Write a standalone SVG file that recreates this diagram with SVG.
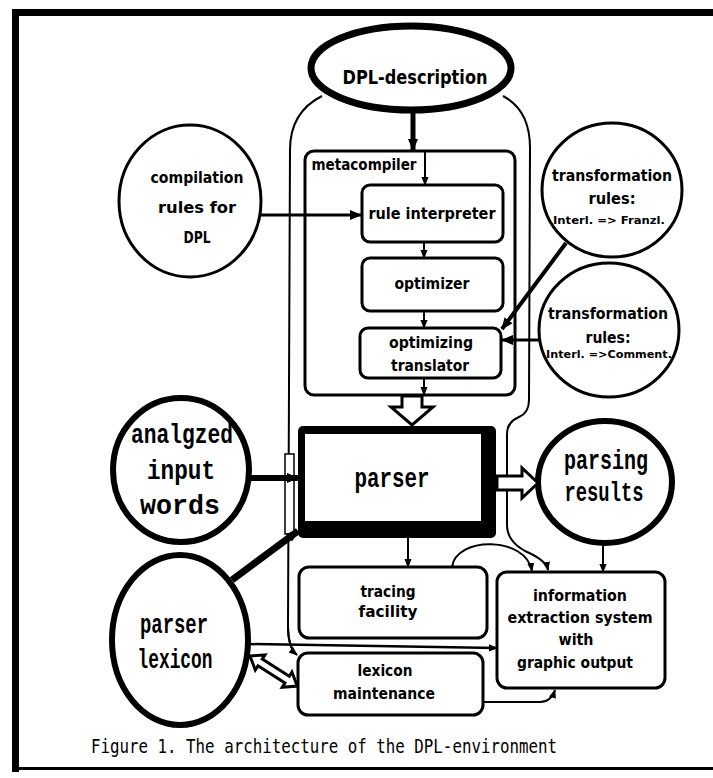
<svg xmlns="http://www.w3.org/2000/svg" width="713" height="778" viewBox="0 0 713 778">
<style>
.bg{fill:#fff}
.frame{fill:#000}
.box{fill:#fff;stroke:#000;stroke-width:3}
.circ{fill:#fff;stroke:#000;stroke-width:3}
.bold{fill:#fff;stroke:#000;stroke-width:6}
.line{fill:none;stroke:#000;stroke-width:2}
.hollow{fill:#fff;stroke:#000;stroke-width:3;stroke-linejoin:miter}
.lbl{font-family:"DejaVu Sans Condensed","DejaVu Sans",sans-serif;font-weight:bold;fill:#000;text-anchor:middle}
.big{font-family:"Liberation Mono","DejaVu Sans Mono",monospace;font-weight:bold;fill:#000;text-anchor:middle}
</style>
<defs>
<marker id="ah" markerUnits="userSpaceOnUse" markerWidth="12" markerHeight="12" viewBox="0 0 12 12" refX="11" refY="6" orient="auto">
<path d="M0,1 L12,6 L0,11 Z" fill="#000"/>
</marker>
<marker id="ahs" markerUnits="userSpaceOnUse" markerWidth="9" markerHeight="9" viewBox="0 0 10 10" refX="9" refY="5" orient="auto">
<path d="M0,1 L10,5 L0,9 Z" fill="#000"/>
</marker>
</defs>
<rect class="bg" x="0" y="0" width="713" height="778"/>
<g id="frame">
<rect class="frame" x="12" y="9" width="701" height="7"/>
<rect class="frame" x="12" y="9" width="7" height="763"/>
<rect class="frame" x="12" y="767" width="701" height="3"/>
</g>
<g id="container">
<path class="line" d="M322,96 C302,106 290,122 290,150 L288,625 C288,642 291,650 296,654"/>
<path class="line" d="M503,96 C522,106 530,124 530,148 L529,400 Q529,413 519,417 Q507,422 507,434 L507,525 Q507,541 525,551 Q546,560 548,570" marker-end="url(#ahs)"/>
<rect x="285" y="454" width="9" height="80" fill="#fff" stroke="#000" stroke-width="1.5"/>
<path class="line" d="M288,625 C288,642 291,650 297,655" marker-end="url(#ahs)"/>
</g>
<g id="metacompiler">
<rect class="box" x="305" y="151" width="210" height="244" rx="9"/>
<text class="lbl" x="364" y="170" font-size="15" textLength="105" lengthAdjust="spacingAndGlyphs">metacompiler</text>
</g>
<g id="dpl-description">
<ellipse cx="411" cy="68" rx="100" ry="42" fill="#fff" stroke="#000" stroke-width="7"/>
<text class="lbl" x="415" y="84" font-size="20" textLength="145" lengthAdjust="spacingAndGlyphs">DPL-description</text>
</g>
<g id="rule-interpreter">
<rect class="box" x="362" y="185" width="141" height="57" rx="8"/>
<text class="lbl" x="432" y="219" font-size="16" textLength="127" lengthAdjust="spacingAndGlyphs">rule interpreter</text>
</g>
<g id="optimizer">
<rect class="box" x="362" y="258" width="141" height="53" rx="8"/>
<text class="lbl" x="432" y="289" font-size="16" textLength="75" lengthAdjust="spacingAndGlyphs">optimizer</text>
</g>
<g id="optimizing-translator">
<rect class="box" x="360" y="328" width="141" height="50" rx="8"/>
<text class="lbl" x="431" y="348" font-size="16" textLength="84" lengthAdjust="spacingAndGlyphs">optimizing</text>
<text class="lbl" x="430" y="371" font-size="16" textLength="78" lengthAdjust="spacingAndGlyphs">translator</text>
</g>
<g id="compilation-rules">
<ellipse class="circ" cx="190" cy="201" rx="71" ry="76"/>
<text class="lbl" x="197" y="183" font-size="16" textLength="93" lengthAdjust="spacingAndGlyphs">compilation</text>
<text class="lbl" x="197" y="213" font-size="16" textLength="78" lengthAdjust="spacingAndGlyphs">rules for</text>
<text class="lbl" x="197" y="243" font-size="16" textLength="27" lengthAdjust="spacingAndGlyphs">DPL</text>
</g>
<g id="transformation-rules-1">
<ellipse class="circ" cx="612" cy="190" rx="70" ry="67"/>
<text class="lbl" x="612" y="181" font-size="16" textLength="120" lengthAdjust="spacingAndGlyphs">transformation</text>
<text class="lbl" x="612" y="204" font-size="16" textLength="47" lengthAdjust="spacingAndGlyphs">rules:</text>
<text class="lbl" x="609" y="224" font-size="10" textLength="112" lengthAdjust="spacingAndGlyphs">Interl. =&gt; Franzl.</text>
</g>
<g id="transformation-rules-2">
<ellipse class="circ" cx="609" cy="330" rx="70" ry="67"/>
<text class="lbl" x="608" y="319" font-size="16" textLength="120" lengthAdjust="spacingAndGlyphs">transformation</text>
<text class="lbl" x="608" y="343" font-size="16" textLength="45" lengthAdjust="spacingAndGlyphs">rules:</text>
<text class="lbl" x="609" y="358" font-size="10" textLength="126" lengthAdjust="spacingAndGlyphs">Interl. =&gt;Comment.</text>
</g>
<g id="parser">
<rect x="298" y="426" width="198" height="112" rx="5" fill="#000"/>
<rect x="305" y="434" width="176" height="87" fill="#fff"/>
<text class="big" x="392" y="487" font-size="28" textLength="75" lengthAdjust="spacingAndGlyphs">parser</text>
</g>
<g id="analyzed-input-words">
<ellipse class="bold" cx="181" cy="470" rx="68" ry="72"/>
<text class="big" x="182" y="443" font-size="28" textLength="102" lengthAdjust="spacingAndGlyphs">analgzed</text>
<text class="big" x="181" y="479" font-size="28" textLength="68" lengthAdjust="spacingAndGlyphs">input</text>
<text class="big" x="180" y="514" font-size="28" textLength="80" lengthAdjust="spacingAndGlyphs">words</text>
</g>
<g id="parsing-results">
<ellipse class="bold" cx="605" cy="482" rx="67" ry="61"/>
<text class="big" x="606" y="469" font-size="28" textLength="84" lengthAdjust="spacingAndGlyphs">parsing</text>
<text class="big" x="604" y="501" font-size="28" textLength="79" lengthAdjust="spacingAndGlyphs">results</text>
</g>
<g id="parser-lexicon">
<ellipse class="bold" cx="180" cy="640" rx="68" ry="85"/>
<text class="big" x="174" y="633" font-size="28" textLength="68" lengthAdjust="spacingAndGlyphs">parser</text>
<text class="big" x="175" y="668" font-size="28" textLength="75" lengthAdjust="spacingAndGlyphs">lexicon</text>
</g>
<g id="tracing-facility">
<rect class="box" x="299" y="567" width="188" height="71" rx="10"/>
<text class="lbl" x="388" y="597" font-size="16" textLength="55" lengthAdjust="spacingAndGlyphs">tracing</text>
<text class="lbl" x="388" y="617" font-size="16" textLength="59" lengthAdjust="spacingAndGlyphs">facility</text>
</g>
<g id="lexicon-maintenance">
<rect class="box" x="298" y="653" width="185" height="62" rx="10"/>
<text class="lbl" x="385" y="676" font-size="16" textLength="55" lengthAdjust="spacingAndGlyphs">lexicon</text>
<text class="lbl" x="384" y="699" font-size="16" textLength="102" lengthAdjust="spacingAndGlyphs">maintenance</text>
</g>
<g id="information-extraction">
<rect class="box" x="497" y="572" width="168" height="116" rx="10"/>
<text class="lbl" x="580" y="601" font-size="16" textLength="94" lengthAdjust="spacingAndGlyphs">information</text>
<text class="lbl" x="580" y="623" font-size="16" textLength="145" lengthAdjust="spacingAndGlyphs">extraction system</text>
<text class="lbl" x="576" y="645" font-size="16" textLength="35" lengthAdjust="spacingAndGlyphs">with</text>
<text class="lbl" x="575" y="668" font-size="16" textLength="116" lengthAdjust="spacingAndGlyphs">graphic output</text>
</g>
<g id="connectors">
<line x1="413" y1="113" x2="413" y2="150" stroke="#000" stroke-width="5" marker-end="url(#ah)"/>
<line class="line" x1="425" y1="151" x2="425" y2="185" marker-end="url(#ahs)"/>
<line class="line" x1="424" y1="242" x2="424" y2="258" marker-end="url(#ahs)"/>
<line class="line" x1="424" y1="311" x2="424" y2="328" marker-end="url(#ahs)"/>
<line class="line" x1="424" y1="378" x2="424" y2="395" marker-end="url(#ahs)"/>
<polygon class="hollow" points="402,396 422,396 422,407 433,407 412,425 391,407 402,407"/>
<line x1="261" y1="215" x2="361" y2="215" stroke="#000" stroke-width="3" marker-end="url(#ah)"/>
<line x1="566" y1="243" x2="502" y2="329" stroke="#000" stroke-width="4" marker-end="url(#ah)"/>
<line x1="539" y1="340" x2="502" y2="340" stroke="#000" stroke-width="3" marker-end="url(#ah)"/>
<line x1="249" y1="478" x2="298" y2="478" stroke="#000" stroke-width="6" marker-end="url(#ah)"/>
<polygon class="hollow" points="497,476 522,476 522,468 538,483 522,498 522,490 497,490"/>
<line x1="232" y1="580" x2="298" y2="531" stroke="#000" stroke-width="7" marker-end="url(#ah)"/>
<line class="line" x1="408" y1="538" x2="408" y2="567" marker-end="url(#ahs)"/>
<path class="line" d="M452,567 C456,536 526,536 532,571" marker-end="url(#ahs)"/>
<line class="line" x1="603" y1="543" x2="603" y2="572" marker-end="url(#ahs)"/>
<line x1="248" y1="644" x2="497" y2="648" stroke="#000" stroke-width="2.5" marker-end="url(#ahs)"/>
<polygon class="hollow" transform="translate(250,656) rotate(32.5)" points="0,0 12,-9 12,-4 44,-4 44,-9 56,0 44,9 44,4 12,4 12,9"/>
<path class="line" d="M483,702 L540,702 Q551,702 555,690" marker-end="url(#ahs)"/>
</g>
<g id="caption">
<text x="91" y="753" font-family="'DejaVu Sans Mono','Liberation Mono',monospace" font-size="19" textLength="466" lengthAdjust="spacingAndGlyphs" fill="#000">Figure 1. The architecture of the DPL-environment</text>
</g>
</svg>
